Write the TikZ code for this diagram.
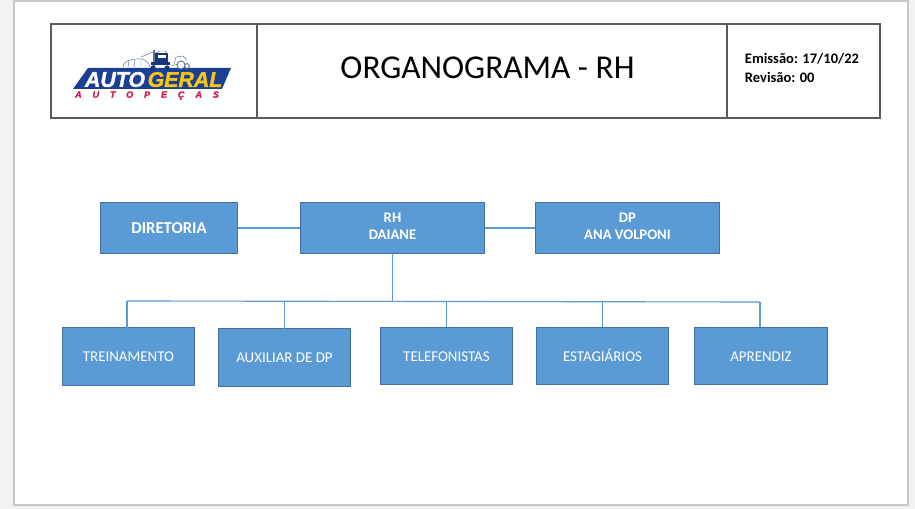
\documentclass[tikz,border=0pt]{standalone}
\usepackage{fontspec}
\setmainfont{Carlito}
\newfontfamily\logofont{Liberation Sans}[BoldItalicFont={Liberation Sans Bold Italic},BoldItalicFeatures={FakeBold=1.5}]
\definecolor{pagebg}{HTML}{F2F2F2}
\definecolor{pageedge}{HTML}{C8C8C8}
\definecolor{cellline}{HTML}{5A5A5A}
\definecolor{boxfill}{HTML}{5B9BD5}
\definecolor{boxline}{HTML}{41719C}
\definecolor{logoblue}{HTML}{1B3F93}
\definecolor{logoyellow}{HTML}{F6C516}
\definecolor{logored}{HTML}{D8154B}
\definecolor{truckline}{HTML}{5F7391}
\newcommand{\liftline}{\rule[-2pt]{0pt}{0pt}}
\tikzset{
  cell/.style={draw=cellline,line width=1.1pt,fill=white,minimum height=70.5pt,inner sep=0pt,outer sep=0pt},
  orgbox/.style={draw=boxline,line width=.65pt,fill=boxfill,text=white,align=center,inner sep=0pt,outer sep=0pt,font=\fontsize{11.2}{12.8}\selectfont},
  topw/.style={minimum width=138.2pt,minimum height=38.5pt,font=\bfseries\fontsize{11}{12.8}\selectfont},
  loww/.style={minimum width=99.2pt,minimum height=43pt,text height=8pt,text depth=0pt},
  link/.style={draw=boxfill,line width=.85pt},
  truck/.style={draw=truckline,line width=.35pt},
  logotext/.style={inner sep=0pt,outer sep=0pt,font=\logofont\bfseries\itshape\fontsize{16}{16}\selectfont},
}
\begin{document}
\begin{tikzpicture}[x=.75pt,y=-.75pt]
\useasboundingbox (0,0) rectangle (915,509);
\fill[pagebg] (0,0) rectangle (915,509);
\draw[pageedge,line width=.9pt,fill=white] (14,1) rectangle (908,505);

% header table
\node[cell,minimum width=154.5pt] (logocell) at (154,71) {};
\node[cell,minimum width=114.75pt] (infocell) at (803.5,71) {};
\node[cell,minimum width=352.5pt] (titlecell) at (492,71) {};
\node[font=\fontsize{25}{28}\selectfont] (titletext) at (487.5,68) {ORGANOGRAMA - RH};
\node[align=left,font=\bfseries\fontsize{10.9}{14}\selectfont,inner sep=0pt] (info) at (802,68) {Emissão: 17/10/22\\Revisão: 00};

% logo
\fill[logoblue] (73,89) -- (88,68) -- (231,68) -- (222,89) -- cycle;
\node[logotext,text=white,anchor=center] (logoa) at (115,79.5) {AUTO};
\node[logotext,text=logoyellow,anchor=center] (logob) at (185,79.5) {GERAL};
\node[inner sep=0pt,text=logored,font=\logofont\bfseries\itshape\fontsize{6.8}{7}\selectfont] (logoc) at (147,95.5) {\addfontfeature{LetterSpace=120}AUTOPEÇAS};
\draw[truck] (123,67) .. controls (124,60) and (130,60) .. (136,59) .. controls (142,58) and (148,60) .. (150,67);
\draw[truck] (128,67) -- (129,61) (134,67) -- (135,60) (141,67) -- (141,60);
\draw[truck] (141,57) -- (153,52);
\fill[truckline] (153,50) rectangle (155,68);
\fill[logoblue!85!black] (155,53) rectangle (168,62);
\fill[white] (158,55) rectangle (166,58);
\draw[truck] (156,53) -- (160,51) -- (165,51) -- (168,54);
\fill[logoblue!85!black] (151,62) rectangle (170,65);
\fill[logoblue!85!black] (153,68) circle (2.6) (167,68) circle (2.6);
\draw[truck] (174,64) -- (176,57) -- (183,56) -- (187,60) (178,64) -- (172,66);
\draw[truck,line width=.7pt,fill=white] (181,65) circle (4) (187,66) circle (2.4);

% organisation chart
\node[orgbox,topw,minimum width=103pt,font=\bfseries\fontsize{12.5}{14}\selectfont] (dir) at (169,228) {DIRETORIA};
\node[orgbox,topw] (rh) at (392.5,228) {RH\\DAIANE\liftline};
\node[orgbox,topw] (dp) at (627.5,228) {DP\\ANA VOLPONI\liftline};
\node[orgbox,loww] (tre) at (128.5,356.5) {TREINAMENTO};
\node[orgbox,loww] (aux) at (284.5,357.5) {AUXILIAR DE DP};
\node[orgbox,loww] (tel) at (446.5,356) {TELEFONISTAS};
\node[orgbox,loww] (est) at (602.5,356) {ESTAGIÁRIOS};
\node[orgbox,loww,minimum width=100pt] (apr) at (761,356) {APRENDIZ};

\coordinate (busl) at (127,301);
\coordinate (busr) at (760,302);
\path[link] (dir) -- (rh);
\path[link] (rh) -- (dp);
\path[link] (rh.south) -- (392.5,301.5);
\path[link] (busl) -- (busr);
\path[link] (tre.north -| busl) -- (busl);
\path[link] (aux.north) -- (284.5,301.2);
\path[link] (tel.north) -- (446.5,301.5);
\path[link] (est.north) -- (602.5,301.8);
\path[link] (apr.north -| busr) -- (busr);
\end{tikzpicture}
\end{document}
